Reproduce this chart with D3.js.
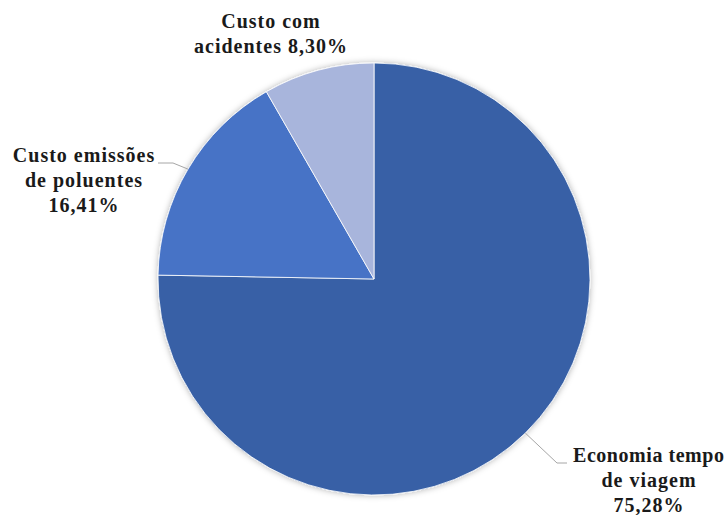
<!DOCTYPE html>
<html>
<head>
<meta charset="utf-8">
<script src="https://cdn.jsdelivr.net/npm/d3@7"></script>
<style>
  html, body { margin: 0; padding: 0; background: #fff; }
  svg { display: block; }
  .lbl { font-family: "Liberation Serif", "Times New Roman", serif; font-weight: bold; font-size: 20px; letter-spacing: 1px; fill: #1a1a1a; }
</style>
</head>
<body>
<svg id="chart" width="728" height="515"></svg>
<script>
// Composition of benefits (share of total, %)
const categories = ["Economia tempo de viagem", "Custo emissões de poluentes", "Custo com acidentes"];
const values = [75.28, 16.41, 8.30];
const valueLabels = ["75,28%", "16,41%", "8,30%"];
const colors = ["#3760A6", "#4673C6", "#A8B5DC"];

const svg = d3.select("#chart");
const cx = 374, cy = 279, r = 216;

const defs = svg.append("defs");
const f = defs.append("filter").attr("id", "shadow")
  .attr("x", "-10%").attr("y", "-10%").attr("width", "120%").attr("height", "120%");
f.append("feDropShadow").attr("dx", 0).attr("dy", 0).attr("stdDeviation", 3)
  .attr("flood-color", "#000").attr("flood-opacity", 0.3);

const pie = d3.pie().sort(null).value(d => d);
const arcs = pie(values);
const arc = d3.arc().innerRadius(0).outerRadius(r);
const edge = d3.arc().innerRadius(r).outerRadius(r);

const g = svg.append("g").attr("transform", `translate(${cx},${cy})`);
g.append("g").attr("filter", "url(#shadow)")
  .selectAll("path").data(arcs).join("path")
  .attr("d", arc)
  .attr("fill", (d, i) => colors[i])
  .attr("stroke", "#fff").attr("stroke-width", 0.8);

// Label blocks: lines of text, anchor and leader routing
// fit: optional fixed width for a line that sits against the right edge
const labelSpec = [
  { lines: ["Economia tempo", "de viagem", valueLabels[0]], x: 649, y: 462, knee: [557, 463], end: [567, 463], fit: { line: 0, width: 152 } },
  { lines: ["Custo emissões", "de poluentes", valueLabels[1]], x: 84, y: 162, knee: [173, 163], end: [158, 163] },
  { lines: ["Custo com", "acidentes " + valueLabels[2]], x: 271, y: 28 }
];
const lh = 25;

labelSpec.forEach((s, i) => {
  if (s.knee) {
    const p = edge.centroid(arcs[i]);
    const pts = [[cx + p[0], cy + p[1]], s.knee, s.end];
    svg.append("path")
      .attr("d", d3.line()(pts))
      .attr("fill", "none").attr("stroke", "#a6a6a6").attr("stroke-width", 1);
  }
  const t = svg.append("text").attr("class", "lbl").attr("text-anchor", "middle")
    .attr("x", s.x).attr("y", s.y);
  s.lines.forEach((ln, k) => {
    const ts = t.append("tspan").attr("x", s.x).attr("y", s.y + k * lh).text(ln);
    if (s.fit && s.fit.line === k) {
      ts.attr("textLength", s.fit.width).attr("lengthAdjust", "spacing");
    }
  });
});
</script>
</body>
</html>
